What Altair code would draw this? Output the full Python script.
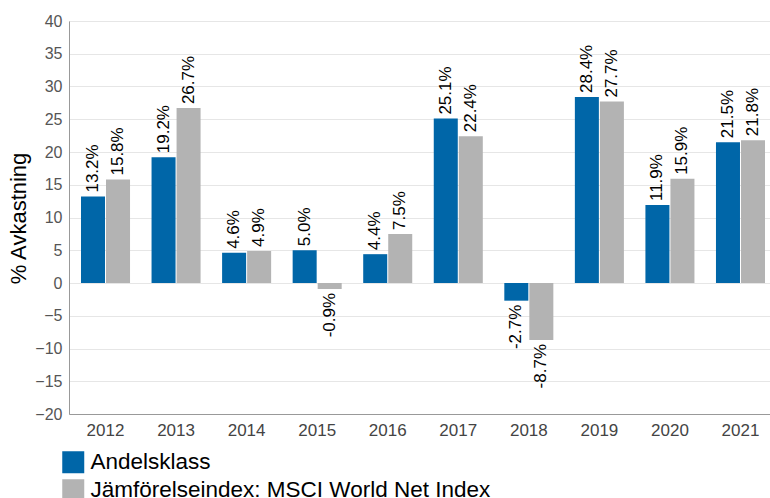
import altair as alt
import pandas as pd

years = ["2012", "2013", "2014", "2015", "2016", "2017", "2018", "2019", "2020", "2021"]
andelsklass = [13.2, 19.2, 4.6, 5.0, 4.4, 25.1, -2.7, 28.4, 11.9, 21.5]
jamforelse = [15.8, 26.7, 4.9, -0.9, 7.5, 22.4, -8.7, 27.7, 15.9, 21.8]
series_names = ["Andelsklass", "Jämförelseindex: MSCI World Net Index"]
colors = ["#0066A8", "#B3B3B3"]

rows = []
for i, y in enumerate(years):
    rows.append({"year": y, "series": series_names[0], "value": andelsklass[i]})
    rows.append({"year": y, "series": series_names[1], "value": jamforelse[i]})
df = pd.DataFrame(rows)
df["label"] = df["value"].map(lambda v: f"{v:.1f}%")

FONT = "Liberation Sans"

x = alt.X("year:N", title=None,
          scale=alt.Scale(range=[0, 708], paddingInner=0.305, paddingOuter=0.17),
          axis=alt.Axis(labelAngle=0, labelFontSize=17, labelColor="#444444", labelFont=FONT,
                        ticks=False, domainColor="#999999", labelPadding=8, grid=False))
xo = alt.XOffset("series:N", sort=series_names, scale=alt.Scale(paddingInner=0.04))
y = alt.Y("value:Q", scale=alt.Scale(domain=[-20, 40], nice=False),
          axis=alt.Axis(values=list(range(-20, 45, 5)), title="% Avkastning",
                        titleFontSize=22, titleFont=FONT, titleColor="#000000", titleFontWeight="normal",
                        titleX=-51, titleY=197, titleAngle=270, titleBaseline="middle", titleAlign="center",
                        labelFontSize=16, labelFont=FONT, labelColor="#555555", labelPadding=7,
                        ticks=False, domainColor="#999999", gridColor="#E6E6E6"))

bars = alt.Chart(df).mark_bar().encode(
    x=x, xOffset=xo, y=y,
    color=alt.Color("series:N", sort=series_names,
                    scale=alt.Scale(domain=series_names, range=colors),
                    legend=alt.Legend(title=None, orient="none", legendX=-7, legendY=430,
                                      symbolType="square", symbolSize=484, symbolStrokeWidth=0,
                                      symbolOpacity=1, labelFontSize=22.5, labelFont=FONT,
                                      labelColor="#000000", labelOffset=6, rowPadding=5,
                                      padding=0, labelLimit=600)),
)

pos = alt.Chart(df).transform_filter("datum.value >= 0").mark_text(
    angle=270, align="left", baseline="middle", dx=4, fontSize=17, font=FONT, color="#000000"
).encode(x=x, xOffset=xo, y=y, text="label:N")

neg = alt.Chart(df).transform_filter("datum.value < 0").mark_text(
    angle=270, align="right", baseline="middle", dx=-4, fontSize=17, font=FONT, color="#000000"
).encode(x=x, xOffset=xo, y=y, text="label:N")

chart = alt.layer(bars, pos, neg).properties(
    width=701, height=393,
    autosize=alt.AutoSizeParams(type="none"),
    padding={"left": 69, "top": 21, "right": 0, "bottom": 84},
).configure_view(stroke=None).configure(background="white")

chart.save("out.html", embed_options={"renderer": "svg", "actions": False})
